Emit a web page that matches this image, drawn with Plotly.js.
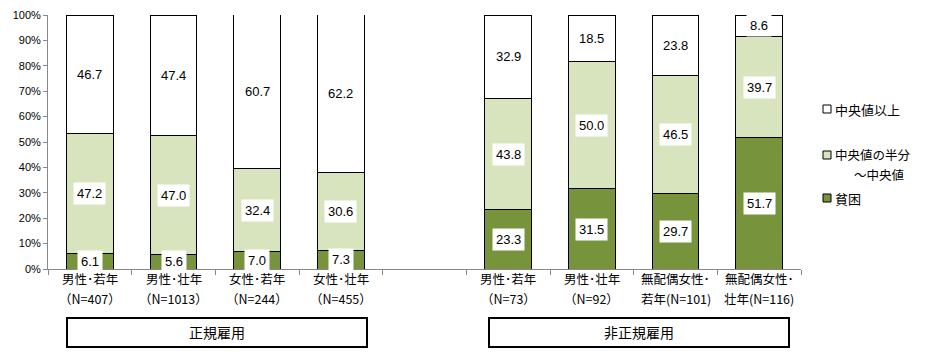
<!DOCTYPE html>
<html>
<head>
<meta charset="utf-8">
<script src="https://cdn.plot.ly/plotly-3.0.1.min.js"></script>
<style>body{margin:0;background:#fff;}#chart{width:925px;height:355px;}</style>
</head>
<body>
<div id="chart"></div>
<script>
var categories = ['男性･若年（N=407）', '男性･壮年（N=1013）', '女性･若年（N=244）', '女性･壮年（N=455）', ' ',
                  '男性･若年 （N=73）', '男性･壮年 （N=92）', '無配偶女性･若年(N=101)', '無配偶女性･壮年(N=116)'];
var labelLine1 = ['男性･若年', '男性･壮年', '女性･若年', '女性･壮年', '', '男性･若年', '男性･壮年', '無配偶女性･', '無配偶女性･'];
var labelLine2 = ['（N=407）', '（N=1013）', '（N=244）', '（N=455）', '', '（N=73）', '（N=92）', '若年(N=101)', '壮年(N=116)'];
var seriesNames = ['貧困', '中央値の半分～中央値', '中央値以上'];
var poverty   = [6.1, 5.6, 7.0, 7.3, null, 23.3, 31.5, 29.7, 51.7];
var halfToMed = [47.2, 47.0, 32.4, 30.6, null, 43.8, 50.0, 46.5, 39.7];
var aboveMed  = [46.7, 47.4, 60.7, 62.2, null, 32.9, 18.5, 23.8, 8.6];
var yTickVals = [0,10,20,30,40,50,60,70,80,90,100];
var yTickText = ['0%','10%','20%','30%','40%','50%','60%','70%','80%','90%','100%'];
var groupLabels = ['正規雇用', '非正規雇用'];
var legendLabels = ['中央値以上', '中央値の半分', '～中央値', '貧困'];

var colors = ['#77933C', '#D7E4BD', '#FFFFFF'];
var series = [poverty, halfToMed, aboveMed];

var traces = series.map(function(vals, i){
  return {
    type: 'bar', x: categories, y: vals, name: seriesNames[i],
    marker: {color: colors[i], line: {color: '#000', width: 1}},
    width: 0.56, hoverinfo: 'skip', showlegend: false
  };
});

var annotations = [];
for (var j = 0; j < categories.length; j++) {
  var base = 0;
  for (var i = 0; i < series.length; i++) {
    var v = series[i][j];
    if (v === null) continue;
    annotations.push({
      x: categories[j], y: base + v/2, xref: 'x', yref: 'y',
      text: v.toFixed(1), showarrow: false, bgcolor: '#fff', borderpad: 3,
      font: {size: 13, color: '#000', family: 'Liberation Sans, Arial, sans-serif'}
    });
    base += v;
  }
}

function px2paperX(px){ return (px - 48) / 753; }
function px2paperY(py){ return (269 - py) / 254; }
function txt(x, y, t, size, xa){
  return {xref:'paper', yref:'paper', x: px2paperX(x), y: px2paperY(y), xanchor: xa || 'center', yanchor: 'middle',
          borderpad: 0, text: t, showarrow: false, font: {size: size, color: '#000', family: 'Noto Sans CJK JP, sans-serif'}};
}

// category labels (two lines)
for (var c = 0; c < categories.length; c++) {
  if (!labelLine1[c]) continue;
  [labelLine1[c], labelLine2[c]].forEach(function(t, k){
    annotations.push({xref:'x', yref:'paper', x: categories[c], y: px2paperY(k === 0 ? 278 : 298),
      xanchor:'center', yanchor:'middle', borderpad: 0, showarrow:false, text: t,
      font:{size: 12.5, color:'#000', family:'Noto Sans CJK JP, sans-serif'}});
  });
}

annotations.push(txt(217, 332, groupLabels[0], 14));
annotations.push(txt(639, 332, groupLabels[1], 14));
annotations.push(txt(834, 109, legendLabels[0], 13, 'left'));
annotations.push(txt(834, 154, legendLabels[1], 12.5, 'left'));
annotations.push(txt(853, 174, legendLabels[2], 12.5, 'left'));
annotations.push(txt(834, 198, legendLabels[3], 13, 'left'));

var shapes = [
  {type:'rect', xref:'paper', yref:'paper', x0: px2paperX(67), x1: px2paperX(367), y0: px2paperY(318), y1: px2paperY(347), line:{color:'#000', width:2}},
  {type:'rect', xref:'paper', yref:'paper', x0: px2paperX(489), x1: px2paperX(789), y0: px2paperY(318), y1: px2paperY(347), line:{color:'#000', width:2}}
];
var legendY = [109, 155, 198];
var legendColors = ['#FFFFFF', '#D7E4BD', '#77933C'];
legendY.forEach(function(y, k){
  shapes.push({type:'rect', xref:'paper', yref:'paper', x0: px2paperX(823), x1: px2paperX(831), y0: px2paperY(y+4), y1: px2paperY(y-4), fillcolor: legendColors[k], line:{color:'#000', width:1}});
});

var layout = {
  width: 925, height: 355,
  margin: {l: 48, r: 124, t: 15, b: 86, pad: 0},
  paper_bgcolor: '#fff', plot_bgcolor: '#fff',
  font: {family: 'Liberation Sans, Noto Sans CJK JP, sans-serif', color: '#000'},
  barmode: 'stack',
  showlegend: false,
  xaxis: {
    type: 'category', range: [-0.5, 8.5], showgrid: false,
    showline: true, linecolor: '#888', linewidth: 1,
    ticks: 'outside', tickson: 'boundaries', ticklen: 5, tickcolor: '#888',
    showticklabels: false, automargin: false,
    fixedrange: true
  },
  yaxis: {
    range: [0, 100], tickvals: yTickVals, ticktext: yTickText, showgrid: false,
    showline: true, linecolor: '#888', linewidth: 1,
    ticks: 'outside', ticklen: 4, tickcolor: '#888',
    tickfont: {size: 11, color: '#000'}, zeroline: false, fixedrange: true
  },
  annotations: annotations,
  shapes: shapes
};

Plotly.newPlot('chart', traces, layout, {displayModeBar: false, staticPlot: true});
</script>
</body>
</html>
